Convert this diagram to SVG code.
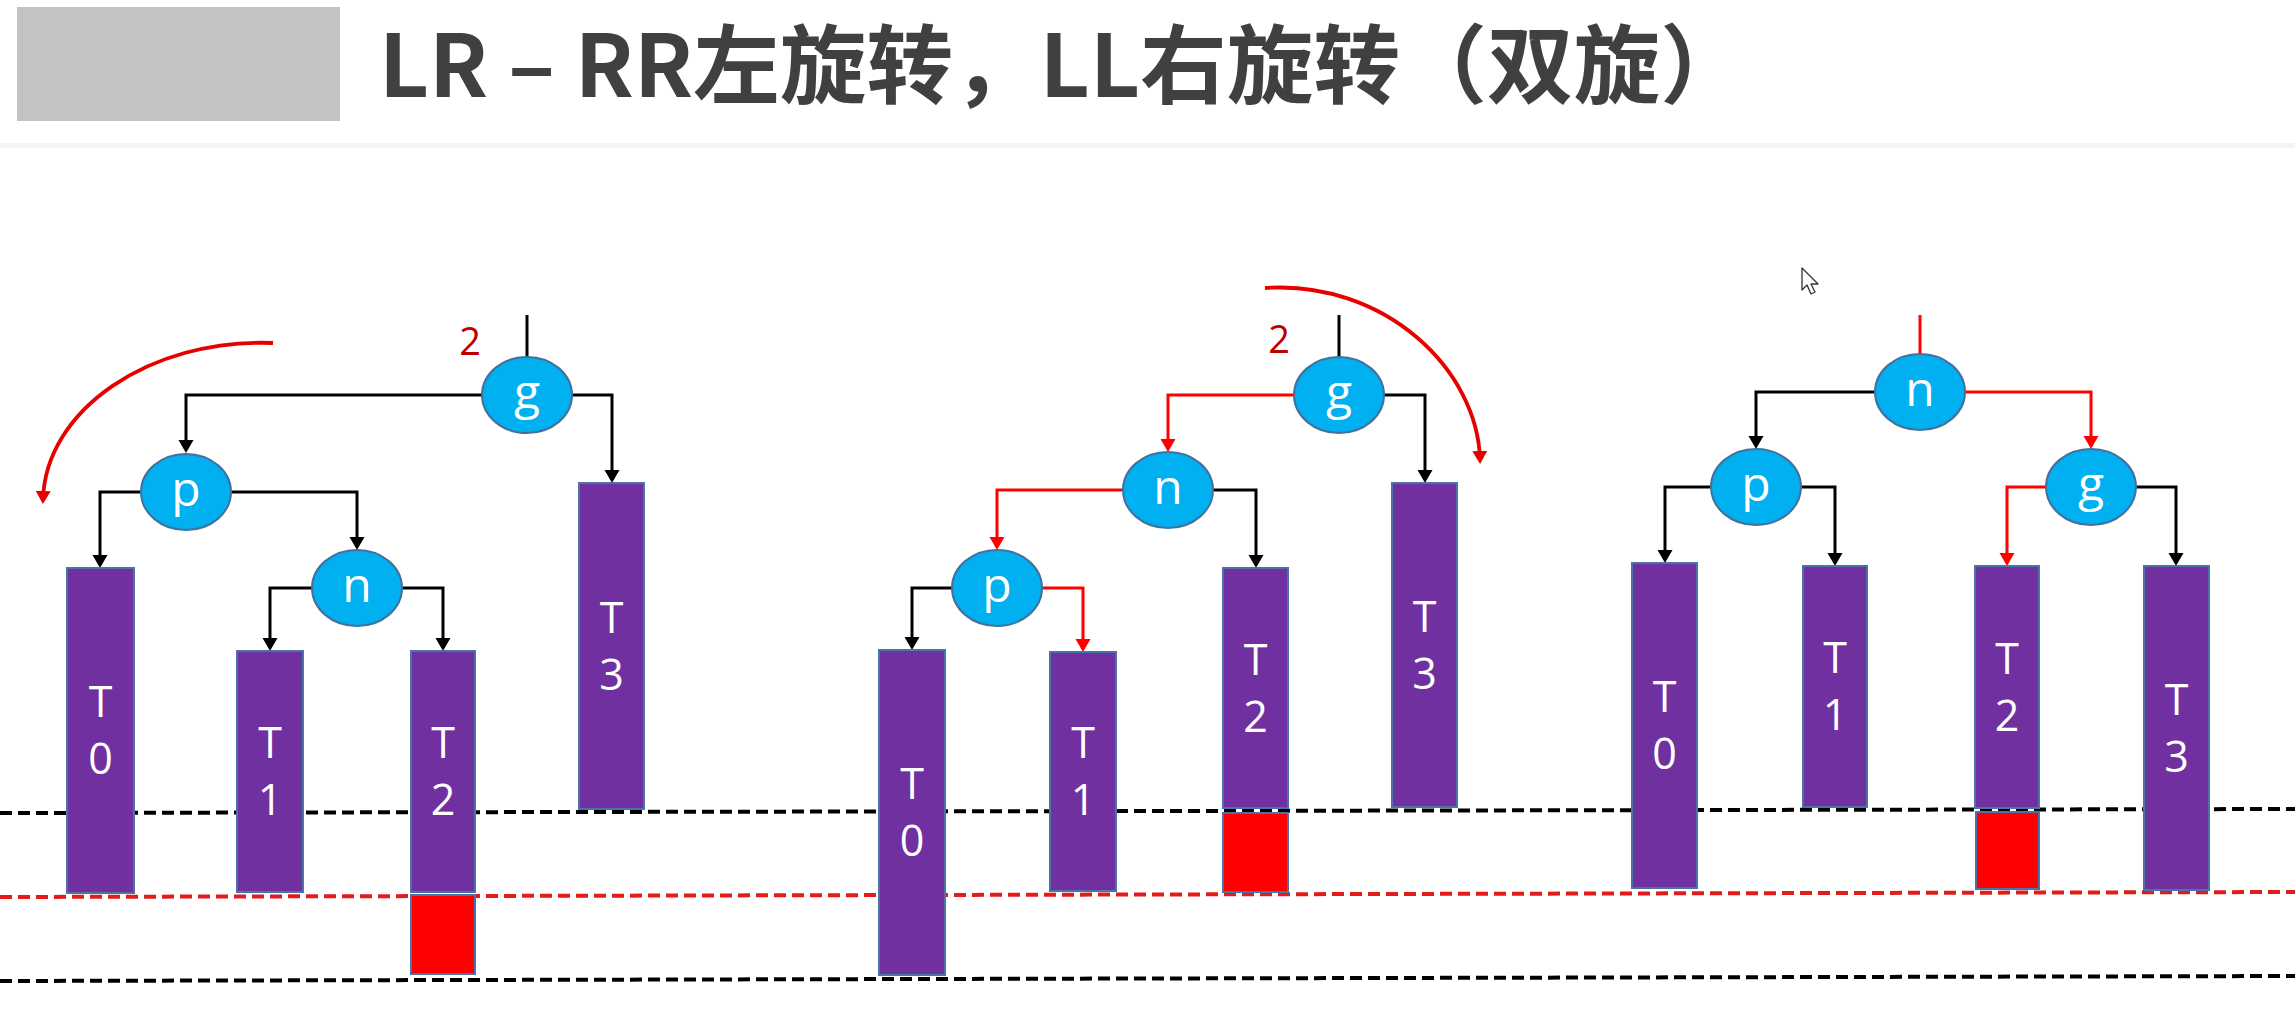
<svg xmlns="http://www.w3.org/2000/svg" width="2295" height="1027" viewBox="0 0 2295 1027">
<defs>
<style>
.circ{fill:#00B0F0;stroke:#41719C;stroke-width:2}
.lbl{font-family:"Open Sans","Noto Sans",sans-serif;font-size:48px;fill:#FFFFFF;text-anchor:middle}
.bar{fill:#7030A0;stroke:#4A73A8;stroke-width:2}
.box{fill:#FF0000;stroke:#4A73A8;stroke-width:2}
.blbl{font-family:"Open Sans","Noto Sans",sans-serif;font-size:43px;fill:#FFFFFF;text-anchor:middle}
.bk{fill:none;stroke:#000000;stroke-width:3}
.rd{fill:none;stroke:#FF0000;stroke-width:3}
.arc{fill:none;stroke:#E60000;stroke-width:3.8}
.two{font-family:"Open Sans","Noto Sans",sans-serif;font-size:38px;fill:#C00000;text-anchor:middle}
.dash{fill:none;stroke-width:4;stroke-dasharray:12 6}
</style>
<marker id="ab" markerUnits="userSpaceOnUse" markerWidth="14" markerHeight="16" refX="9" refY="7.5" orient="auto"><path d="M0,0 L13,7.5 L0,15 z" fill="#000000"/></marker>
<marker id="ar" markerUnits="userSpaceOnUse" markerWidth="14" markerHeight="16" refX="9" refY="7.5" orient="auto"><path d="M0,0 L13,7.5 L0,15 z" fill="#FF0000"/></marker>
<marker id="aa" markerUnits="userSpaceOnUse" markerWidth="14" markerHeight="16" refX="9" refY="7.5" orient="auto"><path d="M0,0 L13,7.5 L0,15 z" fill="#E60000"/></marker>
</defs>
<rect x="0" y="0" width="2295" height="1027" fill="#FFFFFF"/>
<g id="title">
<rect x="17" y="7" width="323" height="114" fill="#C3C3C3"/>
<text x="379" y="97" font-family="'Noto Sans CJK SC','Noto Sans',sans-serif" font-weight="bold" font-size="86" fill="#404040" textLength="1368" lengthAdjust="spacingAndGlyphs">LR – RR左旋转，LL右旋转（双旋）</text>
<rect x="0" y="143" width="2295" height="5" fill="#F4F4F4"/>
</g>
<g id="levels">
<path class="dash" stroke="#000000" d="M0,813 L2295,809"/>
<path class="dash" stroke="#E31B1B" d="M0,897 L2295,892"/>
<path class="dash" stroke="#000000" d="M0,981 L2295,976"/>
</g>
<g id="connectors">
<path class="bk" d="M527,315 V357"/>
<path class="bk" d="M482,395 H186 V449" marker-end="url(#ab)"/>
<path class="bk" d="M572,395 H612 V479" marker-end="url(#ab)"/>
<path class="bk" d="M141,492 H100 V564" marker-end="url(#ab)"/>
<path class="bk" d="M231,492 H357 V546" marker-end="url(#ab)"/>
<path class="bk" d="M312,588 H270 V647" marker-end="url(#ab)"/>
<path class="bk" d="M402,588 H443 V647" marker-end="url(#ab)"/>
<path class="arc" d="M273,343 C150,338 45,410 43,500" marker-end="url(#aa)"/>
<path class="bk" d="M1339,315 V357"/>
<path class="rd" d="M1294,395 H1168 V448" marker-end="url(#ar)"/>
<path class="bk" d="M1384,395 H1425 V479" marker-end="url(#ab)"/>
<path class="rd" d="M1122,490 H997 V546" marker-end="url(#ar)"/>
<path class="bk" d="M1214,490 H1256 V564" marker-end="url(#ab)"/>
<path class="bk" d="M952,588 H912 V646" marker-end="url(#ab)"/>
<path class="rd" d="M1042,588 H1083 V648" marker-end="url(#ar)"/>
<path class="arc" d="M1265,288 C1385,280 1478,370 1480,460" marker-end="url(#aa)"/>
<path class="rd" d="M1920,315 V354"/>
<path class="bk" d="M1875,392 H1756 V445" marker-end="url(#ab)"/>
<path class="rd" d="M1965,392 H2091 V445" marker-end="url(#ar)"/>
<path class="bk" d="M1711,487 H1665 V559" marker-end="url(#ab)"/>
<path class="bk" d="M1801,487 H1835 V562" marker-end="url(#ab)"/>
<path class="rd" d="M2046,487 H2007 V562" marker-end="url(#ar)"/>
<path class="bk" d="M2136,487 H2176 V562" marker-end="url(#ab)"/>
</g>
<text class="two" x="470" y="355">2</text>
<text class="two" x="1279" y="353">2</text>
<g id="t1-g"><ellipse class="circ" cx="527" cy="395" rx="45" ry="38"/><text class="lbl" x="527" y="409">g</text></g>
<g id="t1-p"><ellipse class="circ" cx="186" cy="492" rx="45" ry="38"/><text class="lbl" x="186" y="506">p</text></g>
<g id="t1-n"><ellipse class="circ" cx="357" cy="588" rx="45" ry="38"/><text class="lbl" x="357" y="602">n</text></g>
<g id="t1-T0"><rect class="bar" x="67" y="568" width="67" height="325"/><text class="blbl"><tspan x="100.5" y="717">T</tspan><tspan x="100.5" y="774">0</tspan></text></g>
<g id="t1-T1"><rect class="bar" x="237" y="651" width="66" height="241"/><text class="blbl"><tspan x="270" y="758">T</tspan><tspan x="270" y="815">1</tspan></text></g>
<g id="t1-T2"><rect class="bar" x="411" y="651" width="64" height="241"/><text class="blbl"><tspan x="443" y="758">T</tspan><tspan x="443" y="815">2</tspan></text></g>
<g id="t1-X"><rect class="box" x="411" y="895" width="64" height="79"/></g>
<g id="t1-T3"><rect class="bar" x="579" y="483" width="65" height="326"/><text class="blbl"><tspan x="611.5" y="633">T</tspan><tspan x="611.5" y="690">3</tspan></text></g>
<g id="t2-g"><ellipse class="circ" cx="1339" cy="395" rx="45" ry="38"/><text class="lbl" x="1339" y="409">g</text></g>
<g id="t2-n"><ellipse class="circ" cx="1168" cy="490" rx="45" ry="38"/><text class="lbl" x="1168" y="504">n</text></g>
<g id="t2-p"><ellipse class="circ" cx="997" cy="588" rx="45" ry="38"/><text class="lbl" x="997" y="602">p</text></g>
<g id="t2-T0"><rect class="bar" x="879" y="650" width="66" height="325"/><text class="blbl"><tspan x="912" y="799">T</tspan><tspan x="912" y="856">0</tspan></text></g>
<g id="t2-T1"><rect class="bar" x="1050" y="652" width="66" height="239"/><text class="blbl"><tspan x="1083" y="758">T</tspan><tspan x="1083" y="815">1</tspan></text></g>
<g id="t2-T2"><rect class="bar" x="1223" y="568" width="65" height="240"/><text class="blbl"><tspan x="1255.5" y="675">T</tspan><tspan x="1255.5" y="732">2</tspan></text></g>
<g id="t2-X"><rect class="box" x="1223" y="813" width="65" height="79"/></g>
<g id="t2-T3"><rect class="bar" x="1392" y="483" width="65" height="324"/><text class="blbl"><tspan x="1424.5" y="632">T</tspan><tspan x="1424.5" y="689">3</tspan></text></g>
<g id="t3-n"><ellipse class="circ" cx="1920" cy="392" rx="45" ry="38"/><text class="lbl" x="1920" y="406">n</text></g>
<g id="t3-p"><ellipse class="circ" cx="1756" cy="487" rx="45" ry="38"/><text class="lbl" x="1756" y="501">p</text></g>
<g id="t3-g"><ellipse class="circ" cx="2091" cy="487" rx="45" ry="38"/><text class="lbl" x="2091" y="501">g</text></g>
<g id="t3-T0"><rect class="bar" x="1632" y="563" width="65" height="325"/><text class="blbl"><tspan x="1664.5" y="712">T</tspan><tspan x="1664.5" y="769">0</tspan></text></g>
<g id="t3-T1"><rect class="bar" x="1803" y="566" width="64" height="241"/><text class="blbl"><tspan x="1835" y="673">T</tspan><tspan x="1835" y="730">1</tspan></text></g>
<g id="t3-T2"><rect class="bar" x="1975" y="566" width="64" height="242"/><text class="blbl"><tspan x="2007" y="674">T</tspan><tspan x="2007" y="731">2</tspan></text></g>
<g id="t3-X"><rect class="box" x="1976" y="812" width="63" height="77"/></g>
<g id="t3-T3"><rect class="bar" x="2144" y="566" width="65" height="324"/><text class="blbl"><tspan x="2176.5" y="715">T</tspan><tspan x="2176.5" y="772">3</tspan></text></g>
<g id="cursor"><path d="M1802,268 L1802,290 L1807,285 L1811,294 L1815,292 L1811,284 L1818,284 Z" fill="#FFFFFF" stroke="#333333" stroke-width="1.3" stroke-linejoin="round"/></g>
</svg>
